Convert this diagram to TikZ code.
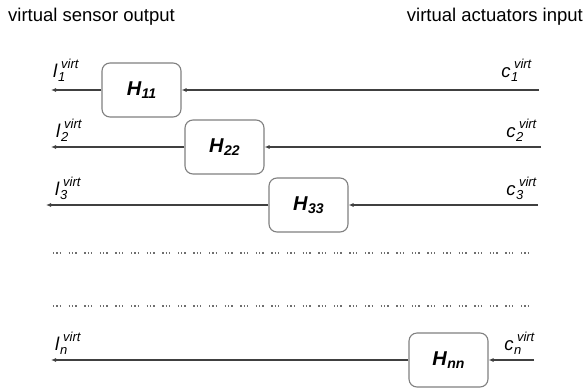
\documentclass[tikz,border=0pt]{standalone}
\usepackage{fontspec}
\setmainfont{Liberation Sans}
\usetikzlibrary{arrows.meta, positioning}
\definecolor{boxgray}{RGB}{128,128,128}
\definecolor{linegray}{RGB}{64,64,64}
\definecolor{dotgray}{RGB}{110,110,110}
\newcommand{\vsig}[2]{\textit{#1}\kern0.5pt\rlap{\raisebox{-4pt}{\fontsize{13}{13}\selectfont\textit{#2}}}\kern3pt\raisebox{9pt}{\fontsize{13}{13}\selectfont\textit{virt}}}
\newcommand{\hname}[1]{H\kern0.5pt\raisebox{-3.5pt}{\fontsize{14}{14}\selectfont #1}}
\tikzset{
  hbox/.style={draw=boxgray, line width=1.1pt, rounded corners=8pt, minimum width=79pt, minimum height=54pt, inner sep=0pt, font=\fontsize{20}{22}\selectfont\bfseries\itshape},
  sig/.style={draw=linegray, line width=1.2pt, -{Latex[length=5pt,width=4pt]}},
  siglab/.style={inner sep=0pt, font=\fontsize{18.5}{20}\selectfont},
  dotrow/.style={draw=dotgray, line width=1.3pt, dash pattern=on 1.3pt off 2pt on 1.3pt off 2pt on 1.3pt off 7.7pt}
}

\begin{document}
\begin{tikzpicture}[x=1pt, y=-1pt]
        \useasboundingbox (0,0) rectangle (585,388);

        \node[siglab, anchor=base west] (outtitle) at (8,21) {virtual sensor output};
        \node[siglab, anchor=base east] (intitle) at (583,21) {virtual actuators input};

        \node[hbox] (h11) at (141.5,90) {\hname{11}};
        \node[hbox] (h22) at (224.5,147) {\hname{22}};
        \node[hbox] (h33) at (308.5,205) {\hname{33}};
        \node[hbox] (hnn) at (448.5,360) {\hname{nn}};

        \coordinate (out1) at (51,90);
        \coordinate (out2) at (51,147);
        \coordinate (out3) at (46,205);
        \coordinate (outn) at (51,360);
        \coordinate (in1) at (539,90);
        \coordinate (in2) at (541,147);
        \coordinate (in3) at (538,205);
        \coordinate (inn) at (534,360);

        \node[siglab, anchor=base west] (l1) at (53,77) {\vsig{l}{1}};
        \node[siglab, anchor=base west] (l2) at (56,137) {\vsig{l}{2}};
        \node[siglab, anchor=base west] (l3) at (55,195) {\vsig{l}{3}};
        \node[siglab, anchor=base west] (ln) at (55,350) {\vsig{l}{n}};
        \node[siglab, anchor=base east] (c1) at (532,77) {\vsig{c}{1}};
        \node[siglab, anchor=base east] (c2) at (537,137) {\vsig{c}{2}};
        \node[siglab, anchor=base east] (c3) at (537,195) {\vsig{c}{3}};
        \node[siglab, anchor=base east] (cn) at (535,350) {\vsig{c}{n}};

        \draw[sig] (in1) -- (h11);
        \draw[sig] (h11) -- (out1);
        \draw[sig] (in2) -- (h22);
        \draw[sig] (h22) -- (out2);
        \draw[sig] (in3) -- (h33);
        \draw[sig] (h33) -- (out3);
        \draw[sig] (inn) -- (hnn);
        \draw[sig] (hnn) -- (outn);

        \coordinate (dotsa) at (53,253);
        \coordinate (dotsb) at (532,253);
        \coordinate (dotsc) at (53,306);
        \coordinate (dotsd) at (532,306);
        \draw[dotrow] (dotsa) -- (dotsb);
        \draw[dotrow] (dotsc) -- (dotsd);
    \end{tikzpicture}
\end{document}
